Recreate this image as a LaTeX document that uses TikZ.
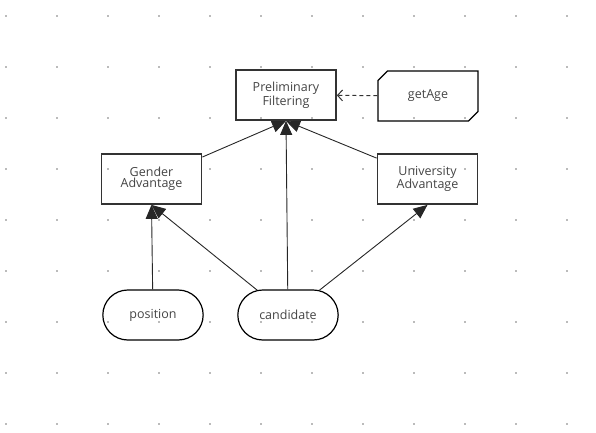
\documentclass[tikz,border=0pt]{standalone}
\usepackage{fontspec}
\setmainfont{Open Sans}
\usetikzlibrary{arrows.meta,shapes.misc}
\definecolor{inkgray}{HTML}{333333}
\definecolor{txtgray}{HTML}{444444}
\definecolor{dotgray}{HTML}{BBBBBB}
\tikzset{
	label font/.style={text=txtgray,font=\fontsize{12.5}{11}\selectfont},
	task/.style={label font,draw=inkgray,line width=1.8pt,minimum width=100pt,minimum height=50pt,align=center,inner sep=2pt},
	inputdata/.style={label font,draw=black,line width=1.2pt,rounded rectangle,minimum width=107pt,minimum height=50pt},
	artifact/.style={label font,draw=black,line width=1.2pt,chamfered rectangle,chamfered rectangle corners={north west,south east},chamfered rectangle xsep=13pt,minimum width=100pt,minimum height=50pt,inner sep=0pt},
	flow/.style={draw=black!85,line width=0.9pt,-{Triangle[length=14pt,width=12pt]}},
	knowledge/.style={draw=inkgray,line width=1pt,dash pattern=on 4pt off 3pt,-{Straight Barb[length=5pt,width=11pt]}}
}
\begin{document}
\begin{tikzpicture}[x=1pt,y=-1pt]
	\useasboundingbox (0,0) rectangle (596,432);
	% dot grid
	\foreach \i in {0,...,11}
		\foreach \j in {0,...,8}
			\fill[dotgray] (5+51*\i,15+51*\j) rectangle +(2,2);

	\node[task] (filtering) at (286,95) {Preliminary\\Filtering};
	\node[artifact] (getage) at (428,96) {getAge};
	\node[task] (gender) at (151.5,179) {Gender\\Advantage};
	\node[task] (university) at (427.5,179) {University\\Advantage};
	\node[inputdata] (position) at (153,315) {position};
	\node[inputdata] (candidate) at (288,315) {candidate};

	\draw[knowledge] (getage) -- (filtering);
	\draw[flow] (gender) -- (filtering.south);
	\draw[flow] (university) -- (filtering.south);
	\draw[flow] (candidate) -- (filtering.south);
	\draw[flow] (position) -- (gender.south);
	\draw[flow] (candidate) -- (gender.south);
	\draw[flow] (candidate) -- (university.south);
\end{tikzpicture}
\end{document}
